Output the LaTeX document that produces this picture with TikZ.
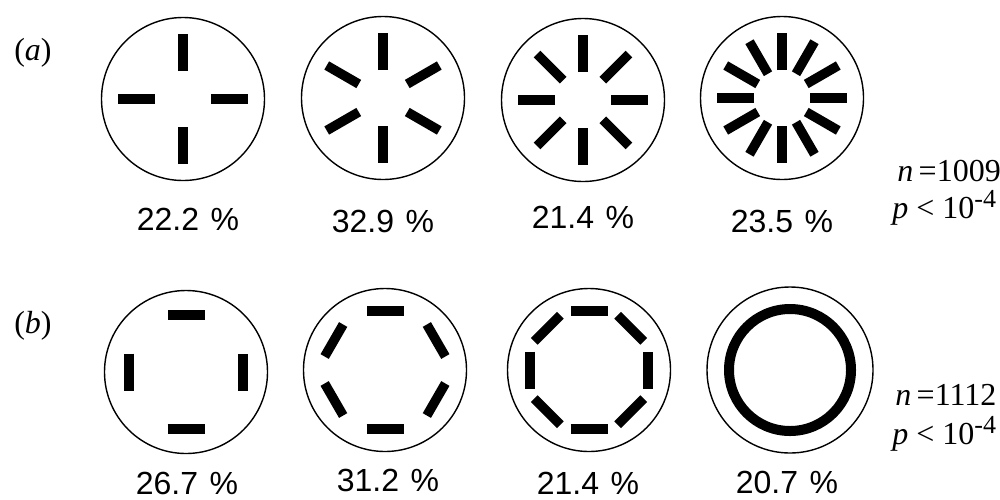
\documentclass[tikz,border=0pt]{standalone}
\usepackage{fontspec}
\setmainfont{Liberation Serif}
\newfontfamily\pctfont{Liberation Sans}
\newcommand\pcsep{\hspace{0.36em}}
\newcommand\expo[1]{\raisebox{0.34em}{\fontsize{13}{13}\selectfont #1}}
\begin{document}
\begin{tikzpicture}[x=0.5pt,y=-0.5pt,
  disc/.style={circle, draw, line width=0.7pt, minimum size=81.5pt, inner sep=0pt},
  bar/.style={line width=4.75pt, line cap=butt},
  pct/.style={anchor=base, font=\pctfont\fontsize{16}{18}\selectfont, inner sep=0pt},
  lab/.style={anchor=base, font=\fontsize{16}{18}\selectfont, inner sep=0pt},
  stat/.style={anchor=base west, font=\fontsize{16}{18}\selectfont, inner sep=0pt}]
\useasboundingbox (0,0) rectangle (1000,499);

% row (a)
\node[lab] (la) at (33,60) {(\textit{a})};
\node[disc] (a1) at (183,99) {};
\node[disc] (a2) at (383,98) {};
\node[disc] (a3) at (583,100) {};
\node[disc] (a4) at (782,98) {};
\foreach \t in {0,90,180,270}
  \draw[bar, shift={(a1)}, rotate=\t] (14pt,0) -- (32.5pt,0);
\foreach \t in {30,90,150,210,270,330}
  \draw[bar, shift={(a2)}, rotate=\t] (14pt,0) -- (32.5pt,0);
\foreach \t in {0,45,...,315}
  \draw[bar, shift={(a3)}, rotate=\t] (14pt,0) -- (32.5pt,0);
\foreach \t in {0,30,...,330}
  \draw[bar, shift={(a4)}, rotate=\t] (14pt,0) -- (32.5pt,0);
\node[pct] (pa1) at (188,230) {22.2\pcsep\%};
\node[pct] (pa2) at (383,232) {32.9\pcsep\%};
\node[pct] (pa3) at (583,228) {21.4\pcsep\%};
\node[pct] (pa4) at (782,232) {23.5\pcsep\%};
\node[stat] (na) at (897,181) {\textit{n}\,=1009};
\node[stat] (pa) at (892,218) {\textit{p} < 10\expo{-4}};

% row (b)
\node[lab] (lb) at (33,333) {(\textit{b})};
\node[disc] (b1) at (186,372) {};
\node[disc] (b2) at (385,370) {};
\node[disc] (b3) at (589,370) {};
\node[disc, minimum size=83pt] (b4) at (790,370) {};
\foreach \t in {0,90,180,270}
  \draw[bar, shift={(b1)}, rotate=\t] (28.5pt,-9.25pt) -- (28.5pt,9.25pt);
\foreach \t in {30,90,150,210,270,330}
  \draw[bar, shift={(b2)}, rotate=\t] (29.5pt,-9.25pt) -- (29.5pt,9.25pt);
\foreach \t in {0,45,...,315}
  \draw[bar, shift={(b3)}, rotate=\t] (29.5pt,-9.25pt) -- (29.5pt,9.25pt);
\draw[line width=5pt, shift={(b4)}] (0,0) circle[radius=30.5pt];
\node[pct] (pb1) at (187,494) {26.7\pcsep\%};
\node[pct] (pb2) at (388,491) {31.2\pcsep\%};
\node[pct] (pb3) at (588,494) {21.4\pcsep\%};
\node[pct] (pb4) at (787,493) {20.7\pcsep\%};
\node[stat] (nb) at (895,405) {\textit{n}\,=1112};
\node[stat] (pb) at (892,444) {\textit{p} < 10\expo{-4}};
\end{tikzpicture}
\end{document}
